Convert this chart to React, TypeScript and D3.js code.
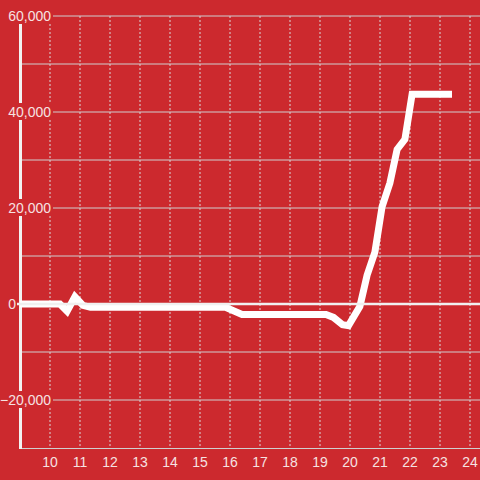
import React from "react";
import * as d3 from "d3";

const hours = [9, 10, 10.33, 10.57, 10.83, 11.1, 11.35, 15.85, 16.4, 19.2, 19.45, 19.75, 19.95, 20.33, 20.57, 20.83, 21.07, 21.33, 21.57, 21.83, 22.07, 23.4];
const values = [0, 0, 0, -1500, 1500, -300, -700, -700, -2200, -2200, -2800, -4300, -4500, -500, 6000, 10800, 20300, 25200, 32200, 34300, 43700, 43700];
const yTicks = [-20000, 0, 20000, 40000, 60000];
const yGrid = [-30000, -20000, -10000, 0, 10000, 20000, 30000, 40000, 50000, 60000];
const xTicks = [10, 11, 12, 13, 14, 15, 16, 17, 18, 19, 20, 21, 22, 23, 24];

export default function App() {
  const W = 480, H = 480;
  const left = 20, right = 480, top = 16, bottom = 448;
  const x = d3.scaleLinear().domain([9, 24 + 1 / 3]).range([left, right]);
  const y = d3.scaleLinear().domain([-30000, 60000]).range([bottom, top]);
  const fmt = d3.format(",");
  const pts: [number, number][] = hours.map((h, i) => [h, values[i]]);
  const line = d3.line<[number, number]>().x(d => x(d[0])).y(d => y(d[1]));
  const textColor = "#f6e2e2";
  const bg = "#cc292e";
  return (
    <svg width={W} height={H} style={{ position: "absolute", left: 0, top: 0, background: bg }}>
      <rect x={0} y={0} width={W} height={H} fill={bg} />
      {xTicks.map(t => (
        <line key={"vx" + t} x1={x(t)} x2={x(t)} y1={top} y2={bottom} stroke="#d9d9d9" strokeWidth={1} strokeDasharray="2,2" />
      ))}
      {yGrid.filter(v => v !== 0 && v !== -30000).map(v => (
        <line key={"gy" + v} x1={left} x2={right} y1={y(v)} y2={y(v)} stroke="#cfcfcf" strokeWidth={1} />
      ))}
      <line x1={left} x2={right} y1={bottom + 0.5} y2={bottom + 0.5} stroke="#cfcfcf" strokeWidth={1} />
      <line x1={20.5} x2={20.5} y1={24} y2={bottom + 1} stroke="#f2f2f2" strokeWidth={3} />
      <path d={line(pts) || ""} fill="none" stroke="#ffffff" strokeWidth={7} strokeLinejoin="miter" />
      <line x1={17} x2={right} y1={y(0)} y2={y(0)} stroke="#f0f0f0" strokeWidth={2.5} />
      {yTicks.map(v => {
        const zero = v === 0;
        const tx = zero ? 16 : 51;
        const label = fmt(v);
        return (
          <g key={"yl" + v}>
            {!zero && <rect x={0} y={y(v) - 9} width={53} height={17} fill={bg} />}
            <text x={tx} y={y(v) + 5} textAnchor="end" fontFamily="Liberation Sans, Arial, sans-serif" fontSize={14} fill={textColor}>{label}</text>
          </g>
        );
      })}
      {xTicks.map(t => (
        <text key={"xl" + t} x={x(t)} y={467} textAnchor="middle" fontFamily="Liberation Sans, Arial, sans-serif" fontSize={14} fill={textColor}>{t}</text>
      ))}
    </svg>
  );
}
